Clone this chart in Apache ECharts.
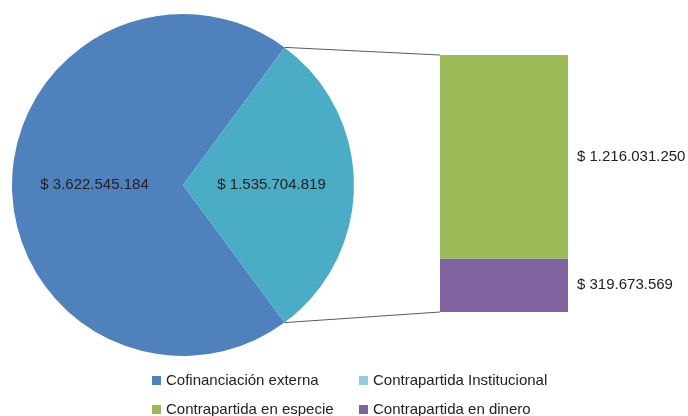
<!DOCTYPE html>
<html>
<head>
<meta charset="utf-8">
<title>Pie of bar</title>
<script src="https://cdn.jsdelivr.net/npm/echarts@6/dist/echarts.min.js"></script>
<style>
  html, body { margin: 0; padding: 0; background: #fff; }
  #main { width: 688px; height: 416px; }
</style>
</head>
<body>
<div id="main"></div>
<script>
// datos
var pieNames = ['Cofinanciación externa', 'Contrapartida Institucional'];
var pieValues = [3622545184, 1535704819];
var barNames = ['Contrapartida en especie', 'Contrapartida en dinero'];
var barValues = [1216031250, 319673569];

var pieColors = ['#4F81BD', '#4BACC6'];
var barColors = ['#9BBB59', '#8064A2'];
var FONT = 'Liberation Sans';

function money(v) {
  return '$ ' + String(v).replace(/\B(?=(\d{3})+(?!\d))/g, '.');
}

var cx = 183, cy = 185, r = 171;
var pieTotal = pieValues[0] + pieValues[1];
var half = 180 * pieValues[1] / pieTotal;   // medio angulo del sector extraido
var barTotal = barValues[0] + barValues[1];
var gLeft = 440, gTop = 55, gWidth = 128, gHeight = 257;

var chart = echarts.init(document.getElementById('main'));

function legendItem(name, color, left, top) {
  return {
    data: [{ name: name, itemStyle: { color: color } }],
    left: left, top: top, padding: 0,
    icon: 'rect', itemWidth: 9, itemHeight: 9,
    selectedMode: false,
    textStyle: { fontFamily: FONT, fontSize: 15, color: '#222' }
  };
}

function barLabel() {
  return { show: true, position: 'right', distance: 9,
           formatter: function (p) { return money(p.value); },
           fontFamily: FONT, fontSize: 15, color: '#222' };
}

var option = {
  animation: false,
  legend: [
    legendItem(pieNames[0], pieColors[0], 152, 373),
    legendItem(pieNames[1], '#93CDDD', 359, 373),
    legendItem(barNames[0], barColors[0], 152, 402),
    legendItem(barNames[1], barColors[1], 359, 402)
  ],
  grid: { left: gLeft, top: gTop, width: gWidth, height: gHeight },
  xAxis: { type: 'category', data: [''], show: false },
  yAxis: { type: 'value', min: 0, max: barTotal, show: false },
  series: [
    {
      type: 'pie',
      center: [cx, cy],
      radius: r,
      startAngle: 360 - half,
      clockwise: true,
      label: {
        position: 'inside',
        formatter: function (p) { return money(p.value); },
        fontFamily: FONT, fontSize: 15, color: '#222'
      },
      labelLine: { show: false },
      emphasis: { disabled: true },
      data: pieNames.map(function (n, i) {
        return { name: n, value: pieValues[i], itemStyle: { color: pieColors[i] } };
      })
    },
    // dinero abajo, especie arriba
    {
      type: 'bar', name: barNames[1], stack: 'b',
      barWidth: '100%',
      itemStyle: { color: barColors[1] },
      label: barLabel(),
      data: [barValues[1]]
    },
    {
      type: 'bar', name: barNames[0], stack: 'b',
      barWidth: '100%',
      itemStyle: { color: barColors[0] },
      label: barLabel(),
      data: [barValues[0]]
    }
  ]
};
chart.setOption(option);

// lineas de conexion entre el sector y la barra
var rad = half * Math.PI / 180;
var px = cx + r * Math.cos(rad);
var yTop = chart.convertToPixel({ gridIndex: 0 }, [0, barTotal])[1];
var yBot = chart.convertToPixel({ gridIndex: 0 }, [0, 0])[1];
chart.setOption({
  graphic: [
    { type: 'line', shape: { x1: px, y1: cy - r * Math.sin(rad), x2: gLeft, y2: yTop },
      style: { stroke: '#595959', lineWidth: 1 } },
    { type: 'line', shape: { x1: px, y1: cy + r * Math.sin(rad), x2: gLeft, y2: yBot },
      style: { stroke: '#595959', lineWidth: 1 } }
  ]
});
</script>
</body>
</html>
